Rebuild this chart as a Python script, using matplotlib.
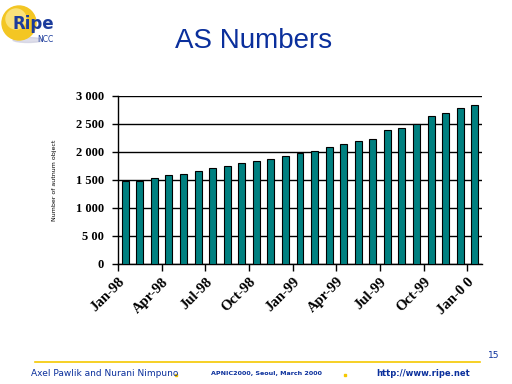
import matplotlib
matplotlib.use("Agg")
import matplotlib.pyplot as plt
from matplotlib.patches import Circle, Ellipse
import numpy as np

# Monatswerte Jan-98 .. Jan-00
months = ["Jan-98", "Feb-98", "Mar-98", "Apr-98", "May-98", "Jun-98", "Jul-98",
          "Aug-98", "Sep-98", "Oct-98", "Nov-98", "Dec-98", "Jan-99", "Feb-99",
          "Mar-99", "Apr-99", "May-99", "Jun-99", "Jul-99", "Aug-99", "Sep-99",
          "Oct-99", "Nov-99", "Dec-99", "Jan-00"]
as_counts = [1476, 1488, 1542, 1596, 1614, 1668, 1721, 1757, 1811, 1847, 1883,
             1937, 1990, 2026, 2098, 2134, 2188, 2241, 2385, 2421, 2493, 2636,
             2690, 2779, 2833]
tick_labels = ["Jan-98", "Apr-98", "Jul-98", "Oct-98", "Jan-99", "Apr-99",
               "Jul-99", "Oct-99", "Jan-0 0"]
y_ticks = [0, 500, 1000, 1500, 2000, 2500, 3000]
y_tick_labels = ["0", "5 00", "1 000", "1 500", "2 000", "2 500", "3 000"]

blue = "#0a2f9c"
teal = "#008080"
gold = "#f5c800"

fig = plt.figure(figsize=(5.12, 3.84), dpi=100)

# Titel
fig.text(0.495, 0.893, "AS Numbers", ha="center", va="center",
         fontsize=20, color=blue, family="Liberation Sans")

# Logo
logo = fig.add_axes([0.0, 1 - 50 / 384, 70 / 512, 50 / 384])
logo.set_xlim(0, 70)
logo.set_ylim(50, 0)
logo.axis("off")
logo.add_patch(Ellipse((28, 40), 30, 5, color="#c8c8dc", alpha=0.6))
logo.add_patch(Circle((19, 23), 17, color="#f3c623"))
logo.add_patch(Circle((16, 19), 10, color="#fae27a"))
logo.text(13, 29, "Ripe", fontsize=12, fontweight="bold", color="#1c3c9c",
          family="DejaVu Sans", va="baseline")
logo.text(37, 42, "NCC", fontsize=5.5, color="#1c3c9c", family="DejaVu Sans",
          va="baseline")

# Diagramm
ax = fig.add_axes([118 / 512, 1 - 264 / 384, 364 / 512, 168 / 384])
x = np.arange(len(months))
ax.bar(x, as_counts, width=0.48, color=teal, edgecolor="black", linewidth=0.8,
       zorder=3)
ax.set_xlim(-0.5, len(months) - 0.5)
ax.set_ylim(0, 3000)
ax.set_yticks(y_ticks)
ax.set_yticklabels(y_tick_labels, fontsize=9, fontweight="bold",
                   family="Liberation Serif")
ax.yaxis.grid(True, color="black", linewidth=1.0, zorder=0)

tick_pos = np.arange(0, len(months), 3) - 0.5
ax.set_xticks(tick_pos)
ax.set_xticklabels(tick_labels, rotation=45, ha="right",
                   rotation_mode="anchor", fontsize=10.5, fontweight="bold",
                   family="Liberation Serif")
ax.tick_params(axis="x", length=5, width=1, pad=3)
ax.tick_params(axis="y", length=4, width=1, pad=6)
for side in ["top", "right"]:
    ax.spines[side].set_visible(False)
ax.spines["left"].set_linewidth(1)
ax.spines["bottom"].set_linewidth(1)
ax.set_ylabel("Number of autnum object", fontsize=4.5, family="DejaVu Sans",
              labelpad=14)

# Fusszeile
fig.add_artist(plt.Line2D([35 / 512, 480 / 512], [1 - 362 / 384, 1 - 362 / 384],
                          color=gold, linewidth=1.2))
fig.text(488 / 512, 1 - 356 / 384, "15", fontsize=6.5, color=blue,
         va="center", family="DejaVu Sans")
fig.text(31 / 512, 1 - 373 / 384, "Axel Pawlik and Nurani Nimpuno",
         fontsize=6.5, color=blue, va="center", family="DejaVu Sans")
fig.text(211 / 512, 1 - 373 / 384, "APNIC2000, Seoul, March 2000",
         fontsize=4.6, color=blue, va="center", fontweight="bold",
         family="DejaVu Sans")
fig.text(376 / 512, 1 - 373 / 384, "http://www.ripe.net",
         fontsize=6, color=blue, va="center", fontweight="bold",
         family="DejaVu Sans")
for px in [176, 345]:
    fig.add_artist(plt.Line2D([px / 512], [1 - 375 / 384], marker="s",
                              markersize=1.5, color=gold, linestyle="none"))

fig.savefig("out.png", dpi=100)
